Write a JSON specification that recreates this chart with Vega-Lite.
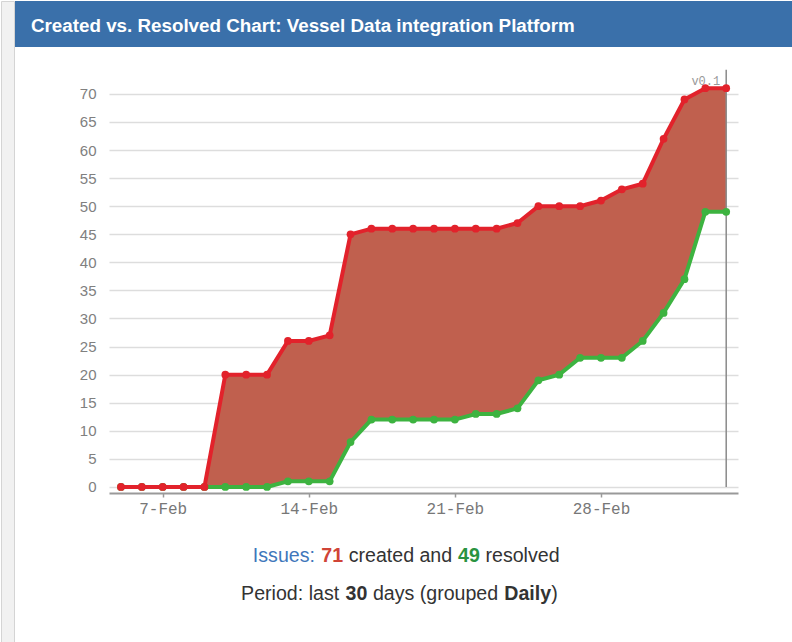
{
  "$schema": "https://vega.github.io/schema/vega-lite/v6.json",
  "background": "white",
  "padding": 0,
  "config": {"view": {"stroke": null}, "font": "Liberation Sans"},
  "spacing": 0,
  "hconcat": [
    {
      "width": 13, "height": 642,
      "view": {"fill": "#f1f1f1", "stroke": "#d4d4d4"},
      "data": {"values": [{}]},
      "mark": {"type": "point", "opacity": 0, "size": 0}
    },
    {
      "spacing": 21,
      "vconcat": [
        {
          "width": 778, "height": 46,
          "view": {"fill": "#3a70aa", "stroke": null},
          "data": {"values": [{}]},
          "mark": {"type": "point", "opacity": 0, "size": 0},
          "title": {
            "text": "Created vs. Resolved Chart: Vessel Data integration Platform",
            "color": "white", "font": "Liberation Sans", "fontSize": 18.8, "fontWeight": "bold",
            "anchor": "start", "frame": "group", "baseline": "alphabetic", "offset": -50, "dx": 16
          }
        },
        {
          "spacing": 0,
          "hconcat": [
            {"width": 0, "height": 0, "data": {"values": [{}]}, "mark": {"type": "point", "opacity": 0, "size": 0}},
            {
              "width": 629, "height": 425,
              "data": {"values": [
                {"date": "2019-02-05", "created": 0, "resolved": 0},
                {"date": "2019-02-06", "created": 0, "resolved": 0},
                {"date": "2019-02-07", "created": 0, "resolved": 0},
                {"date": "2019-02-08", "created": 0, "resolved": 0},
                {"date": "2019-02-09", "created": 0, "resolved": 0},
                {"date": "2019-02-10", "created": 20, "resolved": 0},
                {"date": "2019-02-11", "created": 20, "resolved": 0},
                {"date": "2019-02-12", "created": 20, "resolved": 0},
                {"date": "2019-02-13", "created": 26, "resolved": 1},
                {"date": "2019-02-14", "created": 26, "resolved": 1},
                {"date": "2019-02-15", "created": 27, "resolved": 1},
                {"date": "2019-02-16", "created": 45, "resolved": 8},
                {"date": "2019-02-17", "created": 46, "resolved": 12},
                {"date": "2019-02-18", "created": 46, "resolved": 12},
                {"date": "2019-02-19", "created": 46, "resolved": 12},
                {"date": "2019-02-20", "created": 46, "resolved": 12},
                {"date": "2019-02-21", "created": 46, "resolved": 12},
                {"date": "2019-02-22", "created": 46, "resolved": 13},
                {"date": "2019-02-23", "created": 46, "resolved": 13},
                {"date": "2019-02-24", "created": 47, "resolved": 14},
                {"date": "2019-02-25", "created": 50, "resolved": 19},
                {"date": "2019-02-26", "created": 50, "resolved": 20},
                {"date": "2019-02-27", "created": 50, "resolved": 23},
                {"date": "2019-02-28", "created": 51, "resolved": 23},
                {"date": "2019-03-01", "created": 53, "resolved": 23},
                {"date": "2019-03-02", "created": 54, "resolved": 26},
                {"date": "2019-03-03", "created": 62, "resolved": 31},
                {"date": "2019-03-04", "created": 69, "resolved": 37},
                {"date": "2019-03-05", "created": 71, "resolved": 49},
                {"date": "2019-03-06", "created": 71, "resolved": 49}
              ]},
              "layer": [
                {
                  "mark": {"type": "area", "color": "#c0604e", "opacity": 1},
                  "encoding": {
                    "x": {
                      "field": "date", "type": "temporal",
                      "scale": {"type": "utc", "domain": [1549275300000, 1551879252000], "nice": false},
                      "axis": {
                        "title": null,
                        "values": [1549497600000, 1550102400000, 1550707200000, 1551312000000],
                        "labelExpr": "utcFormat(datum.value, '%-d-%b')",
                        "grid": false, "domainColor": "#999999", "domainWidth": 2,
                        "tickColor": "#999999", "tickSize": 4, "tickWidth": 1.5,
                        "labelFont": "Liberation Mono", "labelFontSize": 16, "labelColor": "#777777",
                        "labelPadding": 3, "labelOverlap": false, "labelFlush": false
                      }
                    },
                    "y": {
                      "field": "created", "type": "quantitative",
                      "scale": {"domain": [-1.07, 74.6], "nice": false, "zero": false},
                      "axis": {
                        "title": null,
                        "values": [0, 5, 10, 15, 20, 25, 30, 35, 40, 45, 50, 55, 60, 65, 70],
                        "tickCount": 15,
                        "grid": true, "gridColor": "#dddddd", "gridWidth": 1.5,
                        "domain": false, "ticks": false, "tickSize": 0,
                        "labelPadding": 13, "labelFont": "Liberation Sans", "labelFontSize": 15,
                        "labelColor": "#808080", "labelOverlap": false, "labelFlush": false, "minExtent": 74
                      }
                    },
                    "y2": {"field": "resolved"}
                  }
                },
                {
                  "data": {"values": [{"date": "2019-03-06", "version": "v0.1"}]},
                  "mark": {"type": "rule", "color": "#8a8a8a", "strokeWidth": 1.5},
                  "encoding": {
                    "x": {"field": "date", "type": "temporal"},
                    "y": {"datum": 0, "type": "quantitative", "axis": {
                        "title": null,
                        "values": [0, 5, 10, 15, 20, 25, 30, 35, 40, 45, 50, 55, 60, 65, 70],
                        "tickCount": 15,
                        "grid": true, "gridColor": "#dddddd", "gridWidth": 1.5,
                        "domain": false, "ticks": false, "tickSize": 0,
                        "labelPadding": 13, "labelFont": "Liberation Sans", "labelFontSize": 15,
                        "labelColor": "#808080", "labelOverlap": false, "labelFlush": false, "minExtent": 74
                      }},
                    "y2": {"datum": 74.3}
                  }
                },
                {
                  "data": {"values": [{"date": "2019-03-06", "version": "v0.1"}]},
                  "mark": {"type": "text", "align": "right", "baseline": "middle", "dx": -6, "font": "Liberation Mono", "fontSize": 12, "color": "#999999"},
                  "encoding": {
                    "x": {"field": "date", "type": "temporal"},
                    "y": {"datum": 72.2, "type": "quantitative", "axis": {
                        "title": null,
                        "values": [0, 5, 10, 15, 20, 25, 30, 35, 40, 45, 50, 55, 60, 65, 70],
                        "tickCount": 15,
                        "grid": true, "gridColor": "#dddddd", "gridWidth": 1.5,
                        "domain": false, "ticks": false, "tickSize": 0,
                        "labelPadding": 13, "labelFont": "Liberation Sans", "labelFontSize": 15,
                        "labelColor": "#808080", "labelOverlap": false, "labelFlush": false, "minExtent": 74
                      }},
                    "text": {"field": "version"}
                  }
                },
                {
                  "mark": {"type": "line", "color": "#3db340", "strokeWidth": 4, "point": {"filled": true, "size": 60, "color": "#3db340"}},
                  "encoding": {
                    "x": {"field": "date", "type": "temporal"},
                    "y": {"field": "resolved", "type": "quantitative", "axis": {
                        "title": null,
                        "values": [0, 5, 10, 15, 20, 25, 30, 35, 40, 45, 50, 55, 60, 65, 70],
                        "tickCount": 15,
                        "grid": true, "gridColor": "#dddddd", "gridWidth": 1.5,
                        "domain": false, "ticks": false, "tickSize": 0,
                        "labelPadding": 13, "labelFont": "Liberation Sans", "labelFontSize": 15,
                        "labelColor": "#808080", "labelOverlap": false, "labelFlush": false, "minExtent": 74
                      }}
                  }
                },
                {
                  "mark": {"type": "line", "color": "#e2222b", "strokeWidth": 4, "point": {"filled": true, "size": 60, "color": "#e2222b"}},
                  "encoding": {
                    "x": {"field": "date", "type": "temporal"},
                    "y": {"field": "created", "type": "quantitative", "axis": {
                        "title": null,
                        "values": [0, 5, 10, 15, 20, 25, 30, 35, 40, 45, 50, 55, 60, 65, 70],
                        "tickCount": 15,
                        "grid": true, "gridColor": "#dddddd", "gridWidth": 1.5,
                        "domain": false, "ticks": false, "tickSize": 0,
                        "labelPadding": 13, "labelFont": "Liberation Sans", "labelFontSize": 15,
                        "labelColor": "#808080", "labelOverlap": false, "labelFlush": false, "minExtent": 74
                      }}
                  }
                }
              ]
            }
          ]
        },
        {
          "spacing": -11,
          "center": true,
          "vconcat": [
            {"width": 782, "height": 0, "data": {"values": [{}]}, "mark": {"type": "point", "opacity": 0, "size": 0}},
            {
              "spacing": -3,
              "center": true,
              "vconcat": [
                {
                  "spacing": 5.4,
                  "hconcat": [
                    {"width": 0, "height": 0, "data": {"values": [{}]}, "mark": {"type": "point", "opacity": 0, "size": 0},
                     "title": {"text": "Issues:", "color": "#3f77bb", "fontSize": 19.6, "fontWeight": "normal", "font": "Liberation Sans", "anchor": "start", "frame": "group", "offset": 0}},
                    {"width": 0, "height": 0, "data": {"values": [{}]}, "mark": {"type": "point", "opacity": 0, "size": 0},
                     "title": {"text": "71", "color": "#d04437", "fontSize": 19.6, "fontWeight": "bold", "font": "Liberation Sans", "anchor": "start", "frame": "group", "offset": 0}},
                    {"width": 0, "height": 0, "data": {"values": [{}]}, "mark": {"type": "point", "opacity": 0, "size": 0},
                     "title": {"text": "created and", "color": "#333333", "fontSize": 19.6, "fontWeight": "normal", "font": "Liberation Sans", "anchor": "start", "frame": "group", "offset": 0}},
                    {"width": 0, "height": 0, "data": {"values": [{}]}, "mark": {"type": "point", "opacity": 0, "size": 0},
                     "title": {"text": "49", "color": "#2a9340", "fontSize": 19.6, "fontWeight": "bold", "font": "Liberation Sans", "anchor": "start", "frame": "group", "offset": 0}},
                    {"width": 0, "height": 0, "data": {"values": [{}]}, "mark": {"type": "point", "opacity": 0, "size": 0},
                     "title": {"text": "resolved", "color": "#333333", "fontSize": 19.6, "fontWeight": "normal", "font": "Liberation Sans", "anchor": "start", "frame": "group", "offset": 0}}
                  ]
                },
                {
                  "spacing": 5.4,
                  "hconcat": [
                    {"width": 0, "height": 0, "data": {"values": [{}]}, "mark": {"type": "point", "opacity": 0, "size": 0},
                     "title": {"text": "Period: last", "color": "#333333", "fontSize": 19.6, "fontWeight": "normal", "font": "Liberation Sans", "anchor": "start", "frame": "group", "offset": 0}},
                    {"width": 0, "height": 0, "data": {"values": [{}]}, "mark": {"type": "point", "opacity": 0, "size": 0},
                     "title": {"text": "30", "color": "#333333", "fontSize": 19.6, "fontWeight": "bold", "font": "Liberation Sans", "anchor": "start", "frame": "group", "offset": 0}},
                    {"width": 0, "height": 0, "data": {"values": [{}]}, "mark": {"type": "point", "opacity": 0, "size": 0},
                     "title": {"text": "days (grouped", "color": "#333333", "fontSize": 19.6, "fontWeight": "normal", "font": "Liberation Sans", "anchor": "start", "frame": "group", "offset": 0}},
                    {
                      "spacing": 0,
                      "hconcat": [
                        {"width": 0, "height": 0, "data": {"values": [{}]}, "mark": {"type": "point", "opacity": 0, "size": 0},
                         "title": {"text": "Daily", "color": "#333333", "fontSize": 19.6, "fontWeight": "bold", "font": "Liberation Sans", "anchor": "start", "frame": "group", "offset": 0}},
                        {"width": 0, "height": 0, "data": {"values": [{}]}, "mark": {"type": "point", "opacity": 0, "size": 0},
                         "title": {"text": ")", "color": "#333333", "fontSize": 19.6, "fontWeight": "normal", "font": "Liberation Sans", "anchor": "start", "frame": "group", "offset": 0}}
                      ]
                    }
                  ]
                }
              ]
            }
          ]
        }
      ]
    }
  ]
}
